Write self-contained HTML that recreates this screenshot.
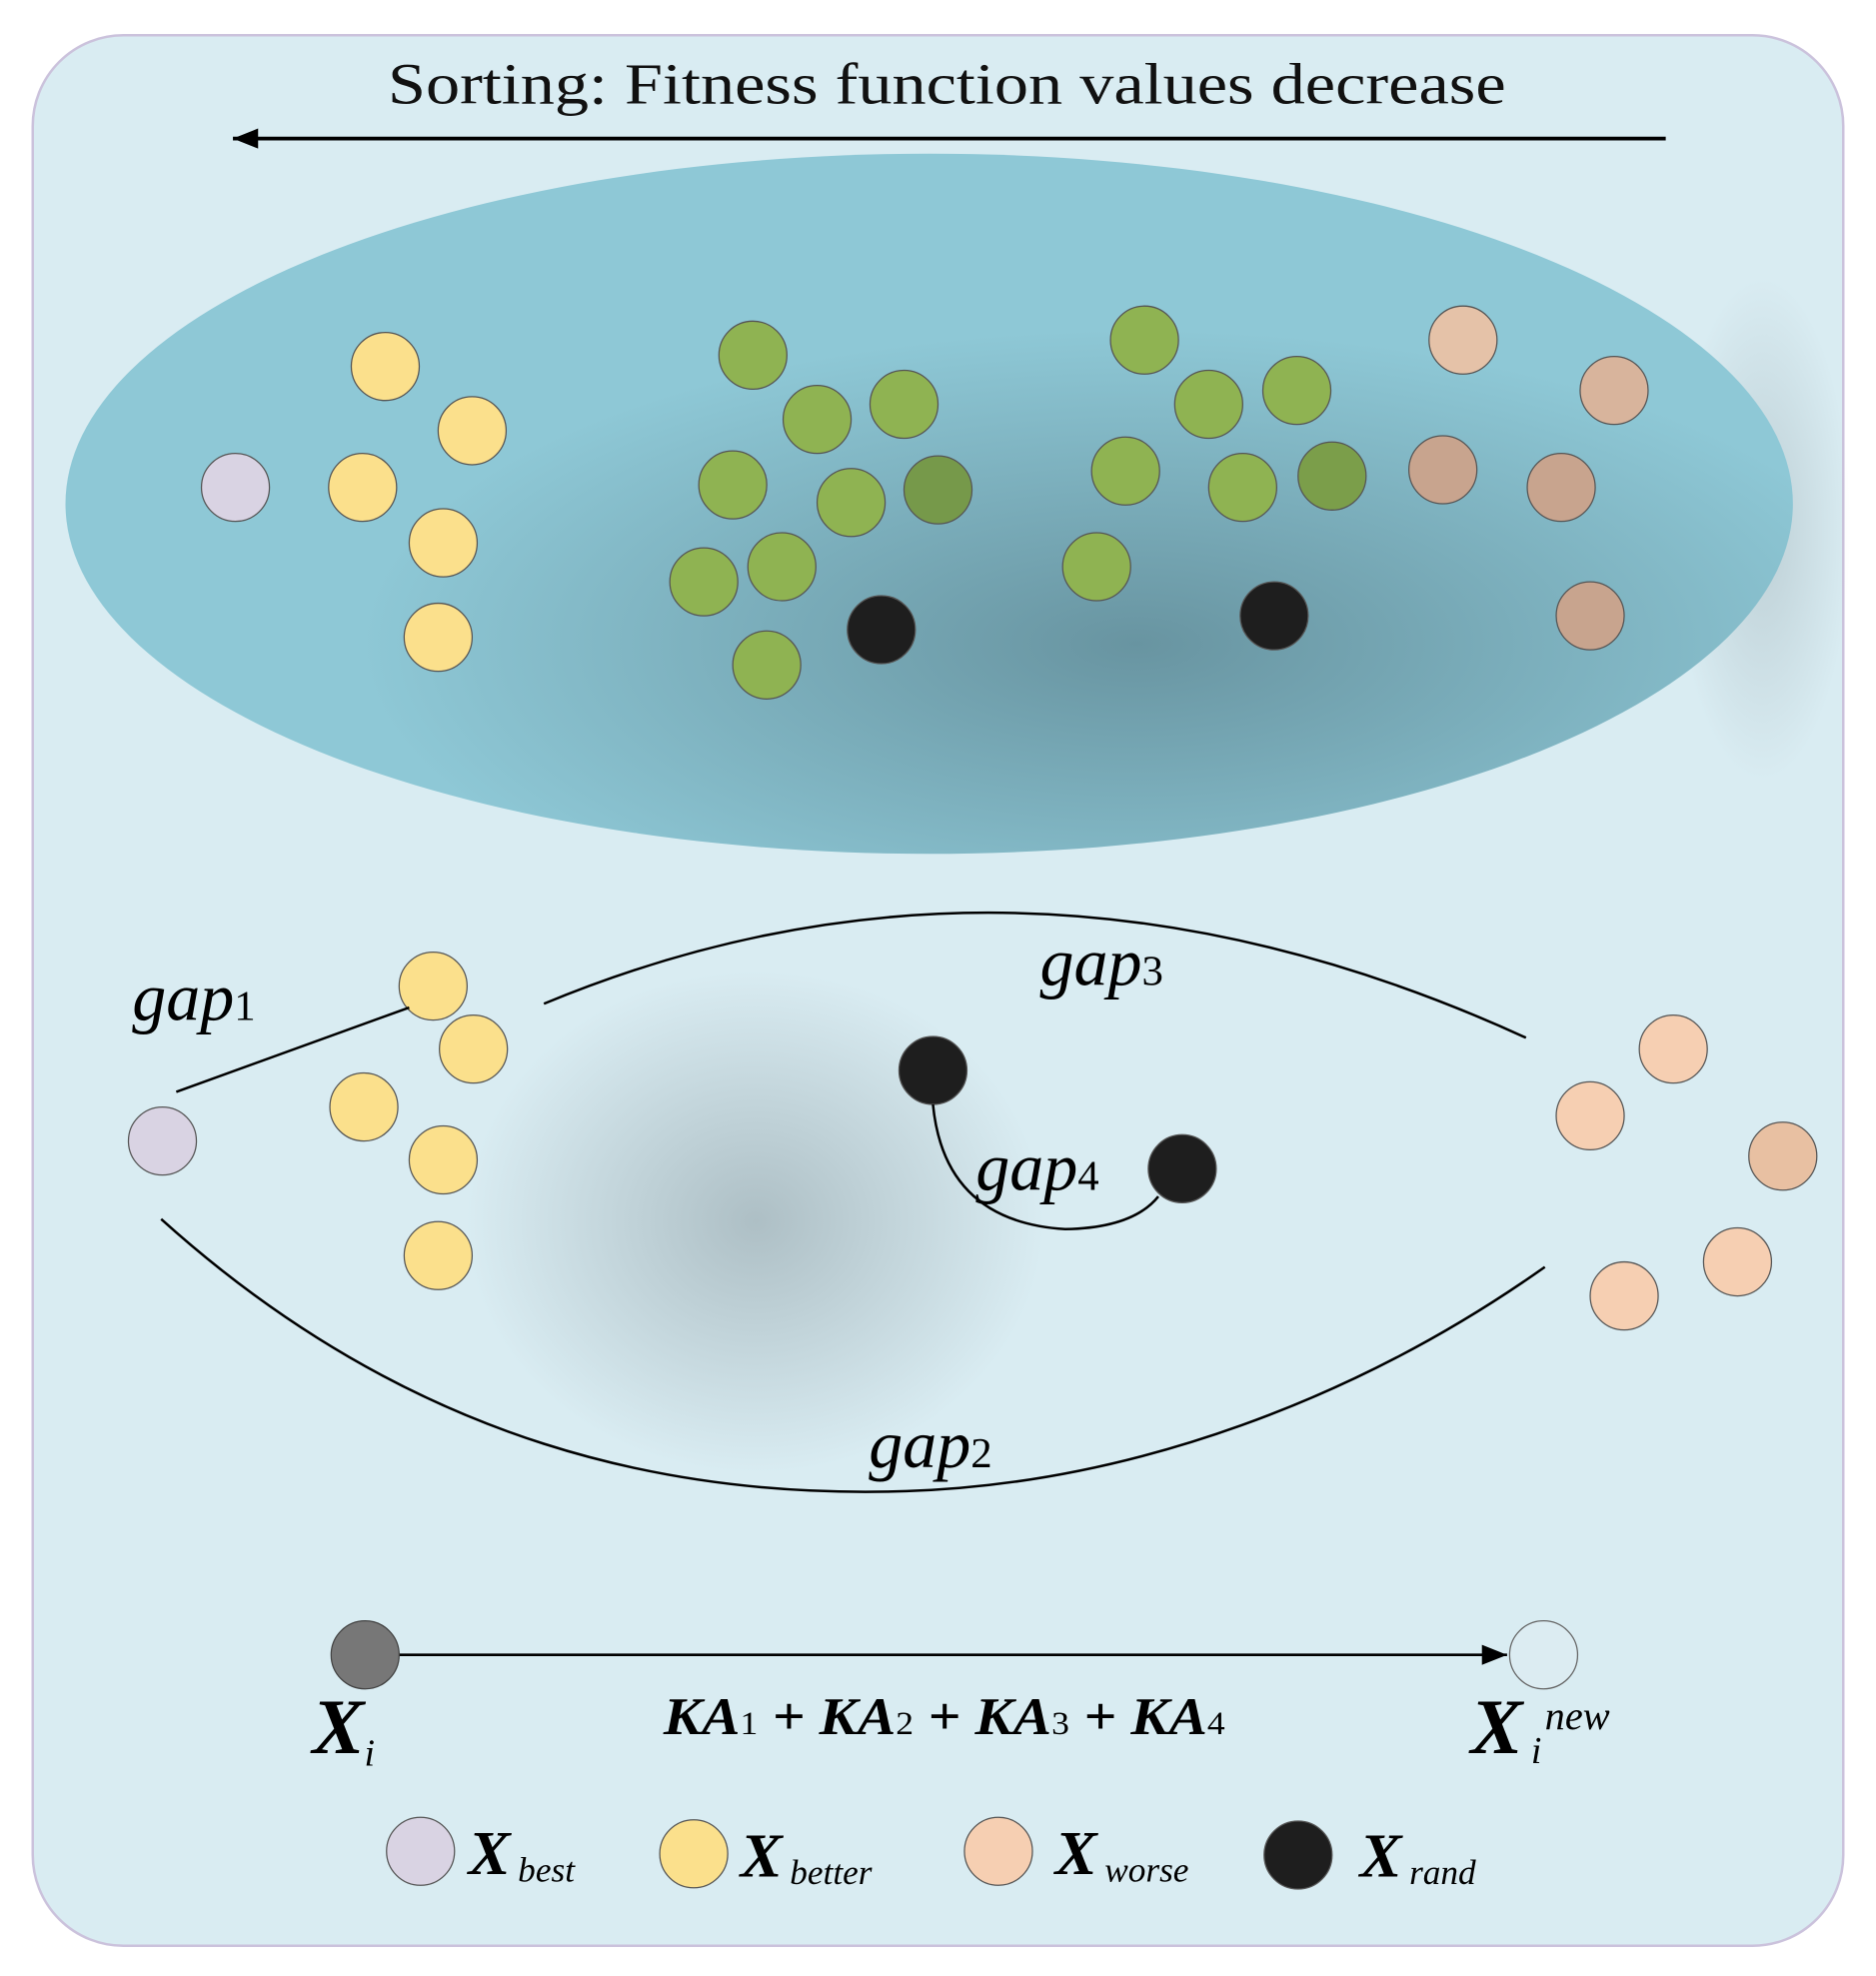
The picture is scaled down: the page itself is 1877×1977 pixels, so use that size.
<!DOCTYPE html>
<html><head><style>html,body{margin:0;padding:0;background:#fff}svg{display:block}</style></head>
<body>
<svg width="1877" height="1977" viewBox="0 0 1490 1569" preserveAspectRatio="none" xmlns="http://www.w3.org/2000/svg" font-family="Liberation Serif, serif">
<defs>
<radialGradient id="sh1" cx="0.62" cy="0.7" r="0.45"><stop offset="0" stop-color="#3a5560" stop-opacity="0.45"/><stop offset="1" stop-color="#3a5560" stop-opacity="0"/></radialGradient>
<radialGradient id="sh2" cx="0.5" cy="0.5" r="0.5"><stop offset="0" stop-color="#8a9aa0" stop-opacity="0.55"/><stop offset="1" stop-color="#8a9aa0" stop-opacity="0"/></radialGradient>
<radialGradient id="sh3" cx="0.5" cy="0.5" r="0.5"><stop offset="0" stop-color="#8a9aa0" stop-opacity="0.35"/><stop offset="1" stop-color="#8a9aa0" stop-opacity="0"/></radialGradient>
<marker id="ah2" viewBox="0 0 10 10" refX="10" refY="5" markerWidth="30" markerHeight="20" markerUnits="userSpaceOnUse" orient="auto"><path d="M0,1 L10,5 L0,9z" fill="#000"/></marker>
</defs>
<rect x="26" y="28" width="1438" height="1517" rx="72" fill="#d9ecf2" stroke="#cbc2dc" stroke-width="2"/>
<ellipse cx="600" cy="970" rx="230" ry="200" fill="url(#sh2)"/>
<ellipse cx="1400" cy="420" rx="70" ry="200" fill="url(#sh3)"/>
<text x="308" y="82" font-size="46" textLength="888" lengthAdjust="spacingAndGlyphs" fill="#111">Sorting: Fitness function values decrease</text>
<line x1="1323" y1="110" x2="185" y2="110" stroke="#000" stroke-width="3" marker-end="url(#ah2)"/>
<ellipse cx="738" cy="400" rx="686" ry="278" fill="#8ec8d6"/>
<ellipse cx="738" cy="400" rx="686" ry="278" fill="url(#sh1)"/>
<g stroke="#555" stroke-width="1">
<circle cx="187" cy="387" r="27" fill="#d9d3e3"/>
<g fill="#fbe08c"><circle cx="306" cy="291" r="27"/><circle cx="375" cy="342" r="27"/><circle cx="288" cy="387" r="27"/><circle cx="352" cy="431" r="27"/><circle cx="348" cy="506" r="27"/></g>
<g fill="#8fb352"><circle cx="598" cy="282" r="27"/><circle cx="649" cy="333" r="27"/><circle cx="718" cy="321" r="27"/><circle cx="582" cy="385" r="27"/><circle cx="676" cy="399" r="27"/><circle cx="745" cy="389" r="27" fill="#76994a"/><circle cx="559" cy="462" r="27"/><circle cx="621" cy="450" r="27"/><circle cx="609" cy="528" r="27"/>
<circle cx="909" cy="270" r="27"/><circle cx="960" cy="321" r="27"/><circle cx="1030" cy="310" r="27"/><circle cx="894" cy="374" r="27"/><circle cx="987" cy="387" r="27"/><circle cx="1058" cy="378" r="27" fill="#7b9e4a"/><circle cx="871" cy="450" r="27"/></g>
<circle cx="700" cy="500" r="27" fill="#1e1e1e"/><circle cx="1012" cy="489" r="27" fill="#1e1e1e"/>
<g fill="#c8a48e"><circle cx="1162" cy="270" r="27" fill="#e5c2a8"/><circle cx="1282" cy="310" r="27" fill="#d8b49c"/><circle cx="1146" cy="373" r="27"/><circle cx="1240" cy="387" r="27"/><circle cx="1263" cy="489" r="27"/></g>
<circle cx="129" cy="906" r="27" fill="#d9d3e3"/>
<g fill="#fbe08c"><circle cx="344" cy="783" r="27"/><circle cx="376" cy="833" r="27"/><circle cx="289" cy="879" r="27"/><circle cx="352" cy="921" r="27"/><circle cx="348" cy="997" r="27"/></g>
<circle cx="741" cy="850" r="27" fill="#1e1e1e"/><circle cx="939" cy="928" r="27" fill="#1e1e1e"/>
<g fill="#f6cfb2"><circle cx="1329" cy="833" r="27"/><circle cx="1263" cy="886" r="27"/><circle cx="1416" cy="918" r="27" fill="#e8c0a2"/><circle cx="1380" cy="1002" r="27"/><circle cx="1290" cy="1029" r="27"/></g>
</g>
<g fill="none" stroke="#000" stroke-width="2">
<line x1="140" y1="867" x2="325" y2="800"/>
<path d="M432,797 Q810,640 1212,824"/>
<path d="M128,968 C330,1150 540,1190 720,1184 C900,1178 1080,1110 1227,1006"/>
<path d="M741,877 Q750,970 846,976 Q900,975 920,950"/>
</g>
<g font-style="italic" font-size="54" fill="#000">
<text x="105" y="810">gap<tspan font-size="34" font-style="normal">1</tspan></text>
<text x="826" y="782">gap<tspan font-size="34" font-style="normal">3</tspan></text>
<text x="775" y="945">gap<tspan font-size="34" font-style="normal">4</tspan></text>
<text x="690" y="1165">gap<tspan font-size="34" font-style="normal">2</tspan></text>
</g>
<line x1="317" y1="1314" x2="1197" y2="1314" stroke="#000" stroke-width="2" marker-end="url(#ah2)"/>
<circle cx="290" cy="1314" r="27" fill="#777" stroke="#444"/>
<circle cx="1226" cy="1314" r="27" fill="#dcecf2" stroke="#666"/>
<text x="248" y="1392" font-size="62" font-weight="bold" font-style="italic">X<tspan font-size="30" font-weight="normal" dy="10">i</tspan></text>
<text x="527" y="1377" font-size="42" font-weight="bold" font-style="italic" textLength="446" lengthAdjust="spacingAndGlyphs">KA<tspan font-size="26" font-style="normal" font-weight="normal">1</tspan> + KA<tspan font-size="26" font-style="normal" font-weight="normal">2</tspan> + KA<tspan font-size="26" font-style="normal" font-weight="normal">3</tspan> + KA<tspan font-size="26" font-style="normal" font-weight="normal">4</tspan></text>
<text x="1168" y="1392" font-size="62" font-weight="bold" font-style="italic">X</text>
<text x="1216" y="1400" font-size="30" font-style="italic">i</text>
<text x="1227" y="1373" font-size="32" font-style="italic">new</text>
<g stroke="#555" stroke-width="1">
<circle cx="334" cy="1470" r="27" fill="#d9d3e3"/><circle cx="551" cy="1472" r="27" fill="#fbe08c"/><circle cx="793" cy="1470" r="27" fill="#f6cfb2"/><circle cx="1031" cy="1473" r="27" fill="#1e1e1e"/>
</g>
<g font-size="50" font-weight="bold" font-style="italic">
<text x="372" y="1488">X<tspan font-size="28" font-weight="normal" dx="6" dy="6">best</tspan></text>
<text x="588" y="1490">X<tspan font-size="28" font-weight="normal" dx="6" dy="6">better</tspan></text>
<text x="838" y="1488">X<tspan font-size="28" font-weight="normal" dx="6" dy="6">worse</tspan></text>
<text x="1080" y="1490">X<tspan font-size="28" font-weight="normal" dx="6" dy="6">rand</tspan></text>
</g>
</svg>
</body></html>
